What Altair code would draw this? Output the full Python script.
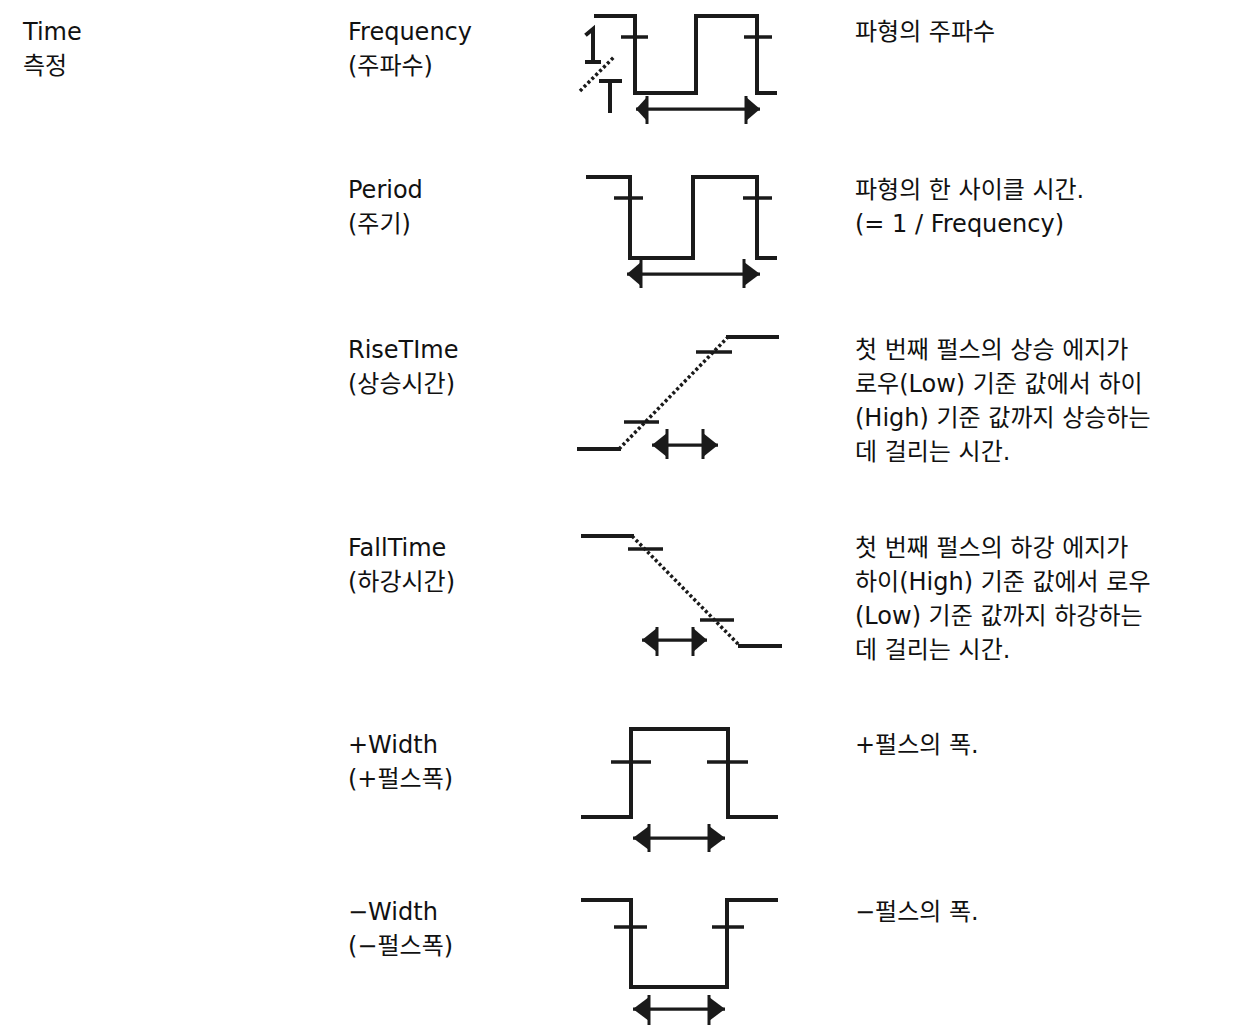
import altair as alt
import pandas as pd

# ---------------- text content ----------------
group_label = ["Time", "측정"]
measure_names = ["Frequency", "Period", "RiseTIme", "FallTime", "+Width", "−Width"]
measure_korean = ["(주파수)", "(주기)", "(상승시간)", "(하강시간)", "(+펄스폭)", "(−펄스폭)"]
descriptions = [
    ["파형의 주파수"],
    ["파형의 한 사이클 시간.", "(= 1 / Frequency)"],
    ["첫 번째 펄스의 상승 에지가", "로우(Low) 기준 값에서 하이",
     "(High) 기준 값까지 상승하는", "데 걸리는 시간."],
    ["첫 번째 펄스의 하강 에지가", "하이(High) 기준 값에서 로우",
     "(Low) 기준 값까지 하강하는", "데 걸리는 시간."],
    ["+펄스의 폭."],
    ["−펄스의 폭."],
]

# ---------------- icon drawings (icon-local units) ----------------
# solid polylines per icon
wave_lines = [
    [[(26, 15), (65, 15), (65, 92), (126, 92), (126, 15), (187, 15), (187, 92), (205, 92)],
     [(17, 33), (23, 28), (23, 61)], [(17, 61), (29, 61)],          # "1"
     [(31, 80), (50, 80)], [(40, 80), (40, 110)]],                   # "T"
    [[(18, 16), (60, 16), (60, 97), (123, 97), (123, 16), (187, 16), (187, 97), (205, 97)]],
    [[(9, 128), (49, 128)], [(158, 16), (207, 16)]],
    [[(13, 15), (62, 15)], [(170, 125), (210, 125)]],
    [[(13, 116), (61, 116), (61, 28), (158, 28), (158, 116), (206, 116)]],
    [[(13, 29), (61, 29), (61, 116), (157, 116), (157, 29), (206, 29)]],
]
# dotted diagonal edges: (x1, y1, x2, y2)
dotted_edges = [
    [(10, 90, 45, 55)],
    [],
    [(49, 128, 158, 16)],
    [(62, 15, 170, 125)],
    [],
    [],
]
# threshold ticks: (y, x_start, x_end)
ticks = [
    [(36, 51, 78), (36, 174, 202)],
    [(37, 44, 73), (37, 173, 202)],
    [(101, 54, 89), (31, 126, 162)],
    [(28, 58, 93), (99, 130, 164)],
    [(61, 41, 81), (61, 137, 178)],
    [(56, 44, 77), (56, 142, 174)],
]
# measurement arrows: (y, tip_left, tip_right, bar_left, bar_right, bar_top, bar_bottom)
arrows = [
    (108, 66, 190, 77, 176, 95, 123),
    (113, 57, 190, 71, 174, 98, 127),
    (124, 82, 148, 97, 133, 108, 138),
    (119, 72, 137, 87, 123, 106, 135),
    (137, 63, 155, 79, 139, 123, 151),
    (138, 63, 155, 79, 139, 124, 154),
]

# ---------------- layout ----------------
W, H = 1229, 1018
X0, Y0 = 8, 8
COL_X = [23, 348, 855]
ROW_Y = [32, 190, 350, 548, 745, 912]
LINE_H = 34
ICON_X = 570
ICON_Y = [0, 160, 320, 520, 700, 870]
INK = "#1a1a1a"
FONT = "DejaVu Sans, Noto Sans CJK KR"

# ---------------- build tables ----------------
text_rows = []
for i, t in enumerate(group_label):
    text_rows.append({"x": COL_X[0], "y": ROW_Y[0] + i * LINE_H, "t": t})
for r in range(len(measure_names)):
    text_rows.append({"x": COL_X[1], "y": ROW_Y[r], "t": measure_names[r]})
    text_rows.append({"x": COL_X[1], "y": ROW_Y[r] + LINE_H, "t": measure_korean[r]})
    for j, line in enumerate(descriptions[r]):
        text_rows.append({"x": COL_X[2], "y": ROW_Y[r] + j * LINE_H, "t": line})
text_df = pd.DataFrame(text_rows)

line_rows = []
gid = 0
for r, polys in enumerate(wave_lines):
    for poly in polys:
        for k, (px, py) in enumerate(poly):
            line_rows.append({"x": ICON_X + px, "y": ICON_Y[r] + py, "g": gid, "o": k})
        gid += 1
line_df = pd.DataFrame(line_rows)

dot_rows = []
for r, edges in enumerate(dotted_edges):
    for (x1, y1, x2, y2) in edges:
        dot_rows.append({"x": ICON_X + x1, "y": ICON_Y[r] + y1,
                         "x2": ICON_X + x2, "y2": ICON_Y[r] + y2})
dot_df = pd.DataFrame(dot_rows)

seg_rows = []
for r, tl in enumerate(ticks):
    for (ty, xa, xb) in tl:
        seg_rows.append({"x": ICON_X + xa, "x2": ICON_X + xb,
                         "y": ICON_Y[r] + ty, "y2": ICON_Y[r] + ty, "w": "tick"})
for r, (ay, tl, tr, bl, br, bt, bb) in enumerate(arrows):
    oy = ICON_Y[r]
    seg_rows.append({"x": ICON_X + tl, "x2": ICON_X + tr, "y": oy + ay, "y2": oy + ay, "w": "shaft"})
    seg_rows.append({"x": ICON_X + bl, "x2": ICON_X + bl, "y": oy + bt, "y2": oy + bb, "w": "bar"})
    seg_rows.append({"x": ICON_X + br, "x2": ICON_X + br, "y": oy + bt, "y2": oy + bb, "w": "bar"})
seg_df = pd.DataFrame(seg_rows)

HEAD = 12
tri_rows = []
for r, (ay, tl, tr, bl, br, bt, bb) in enumerate(arrows):
    oy = ICON_Y[r]
    c = oy + ay
    tri_rows += [
        {"x": ICON_X + tl, "y": c, "y2": c, "k": f"{r}L"},
        {"x": ICON_X + bl, "y": c - HEAD, "y2": c + HEAD, "k": f"{r}L"},
        {"x": ICON_X + br, "y": c - HEAD, "y2": c + HEAD, "k": f"{r}R"},
        {"x": ICON_X + tr, "y": c, "y2": c, "k": f"{r}R"},
    ]
tri_df = pd.DataFrame(tri_rows)

# ---------------- scales ----------------
xs = alt.Scale(domain=[X0, X0 + W], nice=False, zero=False)
ys = alt.Scale(domain=[Y0, Y0 + H], nice=False, zero=False, reverse=True)
X = alt.X("x:Q", scale=xs, axis=None)
Y = alt.Y("y:Q", scale=ys, axis=None)

texts = alt.Chart(text_df).mark_text(
    align="left", baseline="middle", font=FONT, fontSize=24, color="#111111"
).encode(x=X, y=Y, text="t:N")

waves = alt.Chart(line_df).mark_line(
    color=INK, strokeWidth=4, strokeJoin="miter", strokeCap="square"
).encode(x=X, y=Y, detail="g:N", order="o:Q")

dots = alt.Chart(dot_df).mark_rule(
    color=INK, strokeWidth=3.5, strokeDash=[3, 2.5]
).encode(x=X, y=Y, x2="x2:Q", y2="y2:Q")

segs = alt.Chart(seg_df).mark_rule(color=INK, strokeCap="butt").encode(
    x=X, y=Y, x2="x2:Q", y2="y2:Q",
    strokeWidth=alt.StrokeWidth("w:N", scale=alt.Scale(domain=["tick", "shaft", "bar"],
                                                       range=[3.5, 3, 3.5]), legend=None),
)

heads = alt.Chart(tri_df).mark_area(
    color=INK, orient="vertical", interpolate="linear"
).encode(x=X, y=Y, y2="y2:Q", detail="k:N")

chart = alt.layer(waves, dots, segs, heads, texts).properties(
    width=W, height=H, padding=0, background="white"
).configure_view(stroke=None)

chart.save("out.html", embed_options={"renderer": "svg", "actions": False})
